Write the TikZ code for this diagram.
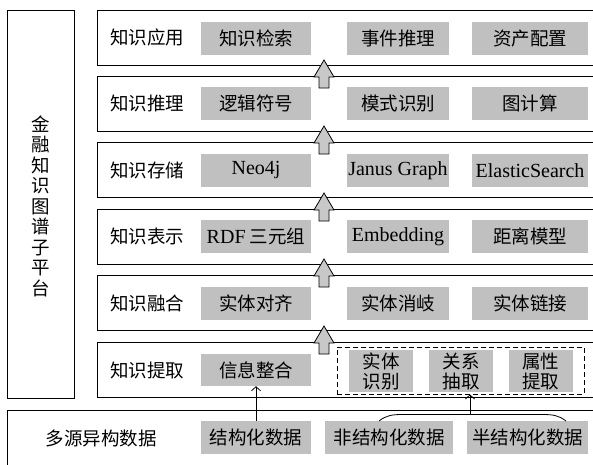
\documentclass[tikz,border=0pt]{standalone}
\usepackage{fontspec}
\setmainfont{Liberation Serif}
\newfontfamily\cjk{Noto Sans CJK SC}
\newfontfamily\latn{Liberation Serif}
\usetikzlibrary{arrows.meta}
\definecolor{boxgray}{RGB}{192,192,192}
\definecolor{arrgray}{RGB}{200,200,200}
\newcommand\blockarr[2]{%
  \draw[fill=arrgray,line width=0.8pt,line join=miter] (#1,#2) -- (#1+10,#2+17) -- (#1+5,#2+17) -- (#1+5,#2+28) -- (#1-5,#2+28) -- (#1-5,#2+17) -- (#1-10,#2+17) -- cycle;}
\begin{document}
\begin{tikzpicture}[x=1pt,y=-1pt,
  frame/.style={draw,line width=0.9pt,inner sep=0pt},
  layer/.style={frame,minimum width=503pt,minimum height=55pt},
  lbl/.style={font=\cjk\fontsize{18.5}{20.5}\selectfont,inner sep=0pt},
  gbox/.style={fill=boxgray,inner sep=0pt,minimum height=33pt,font=\cjk\fontsize{18.5}{20}\selectfont,align=center},
  latin/.style={font=\latn\fontsize{20}{20}\selectfont},
  thin/.style={line width=0.8pt,-{Straight Barb[length=4pt,width=9pt]}}]
\useasboundingbox (0,0) rectangle (593,464);
\clip (0,0) rectangle (593,464);
\fill[white] (0,0) rectangle (593,464);
% left platform box
\node[frame,minimum width=67pt,minimum height=388pt] (plat) at (40.5,204) {};
\node[lbl,align=center,font=\cjk\fontsize{18.5}{20.5}\selectfont] (platt) at (40.5,206) {金\\融\\知\\识\\图\\谱\\子\\平\\台};
% layers
\node[layer] (L1) at (348.5,37.5) {};
\node[layer] (L2) at (348.5,103.5) {};
\node[layer] (L3) at (348.5,170) {};
\node[layer] (L4) at (348.5,236.5) {};
\node[layer] (L5) at (348.5,303) {};
\node[layer] (L6) at (348.5,370) {};
\node[frame,minimum width=593pt,minimum height=60pt] (src) at (303.5,440) {};
% layer labels
\node[lbl] (t1) at (147,37.5) {知识应用};
\node[lbl] (t2) at (147,103.5) {知识推理};
\node[lbl] (t3) at (147,170) {知识存储};
\node[lbl] (t4) at (147,236.5) {知识表示};
\node[lbl] (t5) at (147,303) {知识融合};
\node[lbl] (t6) at (147,370) {知识提取};
\node[lbl] (t7) at (101,438) {多源异构数据};
% gray boxes
\node[gbox,minimum width=110pt] (a1) at (256,38.5) {知识检索};
\node[gbox,minimum width=102pt] (a2) at (398,38.5) {事件推理};
\node[gbox,minimum width=116pt] (a3) at (530,38.5) {资产配置};
\node[gbox,minimum width=110pt] (b1) at (256,103.5) {逻辑符号};
\node[gbox,minimum width=102pt] (b2) at (398,103.5) {模式识别};
\node[gbox,minimum width=116pt] (b3) at (530,103.5) {图计算};
\node[gbox,latin,minimum width=110pt] (c1) at (256,170.5) {Neo4j};
\node[gbox,latin,minimum width=102pt] (c2) at (398,170.5) {Janus Graph};
\node[gbox,latin,minimum width=116pt] (c3) at (530,170.5) {ElasticSearch};
\node[gbox,minimum width=110pt] (d1) at (256,236.5) {{\latn\fontsize{20}{20}\selectfont RDF} 三元组};
\node[gbox,latin,minimum width=102pt] (d2) at (398,236.5) {Embedding};
\node[gbox,minimum width=116pt] (d3) at (530,236.5) {距离模型};
\node[gbox,minimum width=110pt] (e1) at (256,303.5) {实体对齐};
\node[gbox,minimum width=102pt] (e2) at (398,303.5) {实体消岐};
\node[gbox,minimum width=116pt] (e3) at (530,303.5) {实体链接};
\node[gbox,minimum width=110pt,minimum height=32pt] (f1) at (256,370) {信息整合};
\node[draw,line width=0.9pt,dash pattern=on 5pt off 3pt,minimum width=247pt,minimum height=47pt,inner sep=0pt] (dash) at (460.5,370.5) {};
\node[gbox,minimum width=64pt,minimum height=42pt] (f2) at (381,371) {实体\\识别};
\node[gbox,minimum width=64pt,minimum height=42pt] (f3) at (461,371) {关系\\抽取};
\node[gbox,minimum width=64pt,minimum height=42pt] (f4) at (540.5,371) {属性\\提取};
\node[gbox,minimum width=110pt] (s1) at (256,437.5) {结构化数据};
\node[gbox,minimum width=128pt] (s2) at (389,437.5) {非结构化数据};
\node[gbox,minimum width=121pt] (s3) at (527.5,437.5) {半结构化数据};
% block arrows between layers
\blockarr{324}{60}
\blockarr{324}{126}
\blockarr{324}{193}
\blockarr{324}{259}
\blockarr{324}{326}
% thin arrows
\draw[thin] (s1.north) -- (f1.south);
\draw[line width=0.8pt] (379,421) .. controls (386,415.5) and (392,414.5) .. (402,414.5) -- (543,414.5) .. controls (553,414.5) and (559,415.5) .. (566,421);
\coordinate (bt) at (470,414.5);
\draw[thin] (bt) -- (bt |- dash.south);
\end{tikzpicture}
\end{document}
